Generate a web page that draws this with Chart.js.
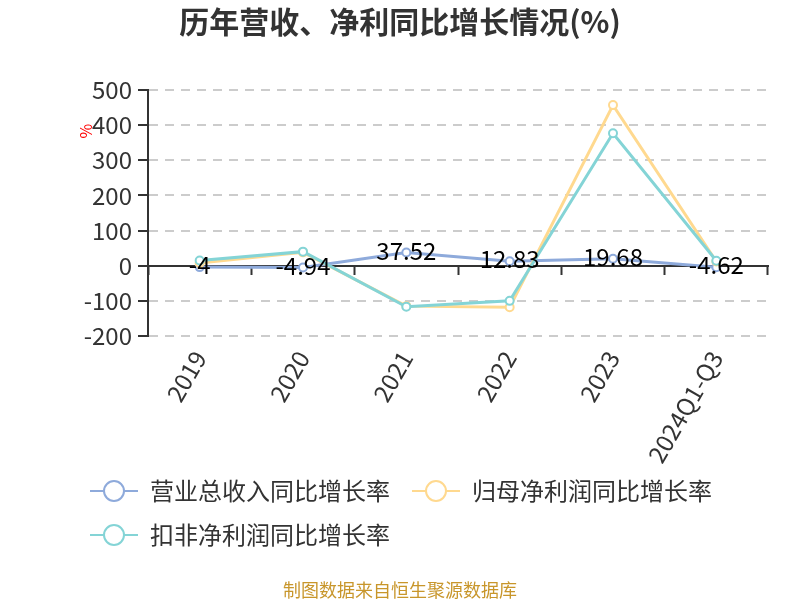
<!DOCTYPE html>
<html>
<head>
<meta charset="utf-8">
<script src="https://cdn.jsdelivr.net/npm/chart.js@4.4.0/dist/chart.umd.min.js"></script>
<style>
    html, body { margin: 0; padding: 0; background: #fff; }
</style>
</head>
<body>
<canvas id="chart" width="800" height="600"></canvas>
<script>
// Данные графика
const categories = ['2019', '2020', '2021', '2022', '2023', '2024Q1-Q3'];
const revenueGrowth = [-4, -4.94, 37.52, 12.83, 19.68, -4.62];
const netProfitGrowth = [8, 38, -115, -118, 457, 12];
const deductedProfitGrowth = [15, 40, -117, -100, 377, 14];
const yTicks = [-200, -100, 0, 100, 200, 300, 400, 500];
const seriesNames = ['营业总收入同比增长率', '归母净利润同比增长率', '扣非净利润同比增长率'];
const seriesColors = ['#8eaadb', '#ffd98f', '#84d4d6'];

const FONT = "'Noto Sans CJK SC', 'Noto Sans', sans-serif";
Chart.defaults.font.family = FONT;

// Значок легенды: линия с кружком
function legendIcon(color) {
    const c = document.createElement('canvas');
    c.width = 50;
    c.height = 24;
    const g = c.getContext('2d');
    g.strokeStyle = color;
    g.lineWidth = 2;
    g.beginPath();
    g.moveTo(2, 12);
    g.lineTo(50, 12);
    g.stroke();
    g.beginPath();
    g.arc(26, 12, 10, 0, Math.PI * 2);
    g.fillStyle = '#fff';
    g.fill();
    g.stroke();
    return c;
}
const legendIcons = seriesColors.map(legendIcon);

// Заголовок, подписи значений первой серии, "%" и источник
const extrasPlugin = {
    id: 'extras',
    afterDatasetsDraw(chart) {
        const ctx = chart.ctx;
        const meta = chart.getDatasetMeta(0);
        ctx.save();
        ctx.font = '24px ' + FONT;
        ctx.fillStyle = '#000';
        ctx.textAlign = 'center';
        ctx.textBaseline = 'middle';
        meta.data.forEach((pt, i) => {
            ctx.fillText(String(revenueGrowth[i]), pt.x, pt.y - 2);
        });
        ctx.restore();
    },
    afterDraw(chart) {
        const ctx = chart.ctx;
        const y = chart.scales.y;

        ctx.save();
        ctx.font = 'bold 30px ' + FONT;
        ctx.fillStyle = '#333';
        ctx.textAlign = 'center';
        ctx.textBaseline = 'middle';
        ctx.fillText('历年营收、净利同比增长情况(%)', chart.width / 2, 22);
        ctx.restore();

        ctx.save();
        ctx.translate(chart.chartArea.left - 62, y.getPixelForValue(400) + 6);
        ctx.rotate(-Math.PI / 2);
        ctx.font = '16px ' + FONT;
        ctx.fillStyle = '#ff0000';
        ctx.textAlign = 'center';
        ctx.textBaseline = 'middle';
        ctx.fillText('%', 0, 0);
        ctx.restore();

        ctx.save();
        ctx.font = '18px ' + FONT;
        ctx.fillStyle = '#c8962b';
        ctx.textAlign = 'center';
        ctx.textBaseline = 'middle';
        ctx.fillText('制图数据来自恒生聚源数据库', chart.width / 2, 590);
        ctx.restore();
    }
};

function makeDataset(i, values, order) {
    return {
        label: seriesNames[i],
        data: values,
        borderColor: seriesColors[i],
        backgroundColor: '#fff',
        borderWidth: 3,
        pointRadius: 4,
        pointBorderWidth: 2,
        pointBackgroundColor: '#fff',
        pointBorderColor: seriesColors[i],
        tension: 0,
        fill: false,
        order: order
    };
}

new Chart(document.getElementById('chart').getContext('2d'), {
    type: 'line',
    data: {
        labels: categories,
        datasets: [
            makeDataset(0, revenueGrowth, 3),
            makeDataset(1, netProfitGrowth, 2),
            makeDataset(2, deductedProfitGrowth, 1)
        ]
    },
    options: {
        responsive: false,
        animation: false,
        devicePixelRatio: 1,
        layout: { padding: { left: 68, right: 32, top: 90, bottom: 43 } },
        plugins: {
            title: { display: false },
            legend: {
                position: 'bottom',
                align: 'start',
                labels: {
                    usePointStyle: true,
                    pointStyleWidth: 50,
                    boxHeight: 24,
                    padding: 20,
                    color: '#333',
                    font: { size: 24 },
                    sort: (a, b) => a.datasetIndex - b.datasetIndex,
                    generateLabels: chart => Chart.defaults.plugins.legend.labels.generateLabels(chart).map(item => {
                        item.pointStyle = legendIcons[item.datasetIndex];
                        return item;
                    })
                }
            },
            tooltip: { enabled: false }
        },
        scales: {
            x: {
                type: 'category',
                offset: true,
                border: { display: false },
                grid: { display: false },
                ticks: {
                    color: '#333',
                    font: { size: 24 },
                    minRotation: 60,
                    maxRotation: 60,
                    padding: 2
                },
                afterFit: s => {
                    s.height = 123;
                    // подписи длиннее оси — не обрезаем их
                    s._computeLabelArea = () => null;
                }
            },
            x2: {
                type: 'category',
                position: { y: 0 },
                offset: true,
                border: { display: true, color: '#333', width: 2 },
                grid: {
                    offset: true,
                    drawOnChartArea: false,
                    drawTicks: true,
                    tickLength: 8,
                    tickColor: '#333',
                    tickWidth: 2
                },
                ticks: { display: false }
            },
            y: {
                min: -200,
                max: 500,
                border: { display: true, color: '#333', width: 2, dash: [9, 7] },
                grid: {
                    color: '#cccccc',
                    lineWidth: 2,
                    tickColor: '#333',
                    tickLength: 10,
                    tickWidth: 2,
                    tickBorderDash: []
                },
                ticks: {
                    color: '#333',
                    font: { size: 24 },
                    padding: 6
                },
                afterBuildTicks: s => { s.ticks = yTicks.map(v => ({ value: v })); },
                afterFit: s => { s.width = 80; }
            }
        }
    },
    plugins: [extrasPlugin]
});
</script>
</body>
</html>
